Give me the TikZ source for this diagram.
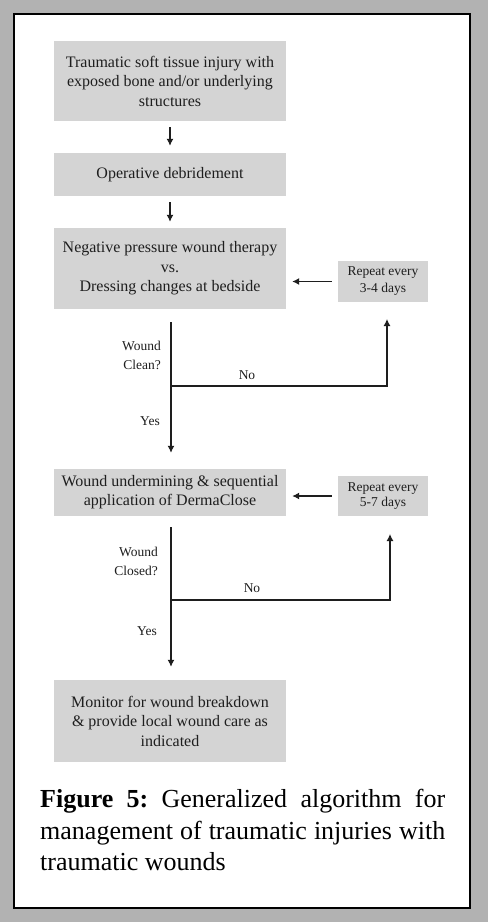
\documentclass[tikz,border=0pt]{standalone}
\usepackage{fontspec}
\setmainfont{Liberation Serif}
\usetikzlibrary{arrows.meta}
\definecolor{bggray}{HTML}{B2B2B2}
\definecolor{boxgray}{HTML}{D4D4D4}
\definecolor{ink}{HTML}{1E1E1E}
\frenchspacing
\begin{document}
\begin{tikzpicture}[x=1pt,y=-1pt,
  flowbox/.style={fill=boxgray,draw=none,minimum width=232pt,align=center,font=\fontsize{16}{19.5}\selectfont,text=ink,inner sep=0pt},
  repbox/.style={fill=boxgray,draw=none,minimum width=90pt,align=center,font=\fontsize{13.5}{17}\selectfont,text=ink,inner sep=0pt},
  lbl/.style={font=\fontsize{13.5}{19}\selectfont,text=ink,inner sep=0pt},
  conn/.style={draw=ink,line width=1.2pt},
  arr/.style={conn,-{Latex[length=7pt,width=7pt]}}]
\fill[bggray] (0,0) rectangle (488,922);
\fill[white] (14,14) rectangle (470,908);
\draw[black,line width=1.4pt] (14,14) rectangle (470,908);
\node[flowbox,minimum height=80pt] (b1) at (170,81) {Traumatic soft tissue injury with\\exposed bone and/or underlying\\structures};
\node[flowbox,minimum height=43pt] (b2) at (170,174.5) {Operative debridement};
\node[flowbox,minimum height=81pt] (b3) at (170,268.5) {Negative pressure wound therapy\\vs.\\Dressing changes at bedside};
\node[repbox,minimum height=41pt] (r1) at (383,281.5) {Repeat every\\3-4 days};
\node[flowbox,minimum height=47pt,font=\fontsize{16}{19}\selectfont] (b4) at (170,492.5) {Wound undermining \& sequential\\application of DermaClose};
\node[repbox,minimum height=40pt,font=\fontsize{13.5}{15.5}\selectfont] (r2) at (383,496) {Repeat every\\5-7 days};
\node[flowbox,minimum height=82pt] (b5) at (170,721) {Monitor for wound breakdown\\\& provide local wound care as\\indicated};
\draw[arr,shorten <=6pt,shorten >=7pt] (b1) -- (b2);
\draw[arr,shorten <=6pt,shorten >=6pt] (b2) -- (b3);
\draw[arr,shorten <=6pt,shorten >=6pt] (r1.west) -- (r1.west -| b3.east);
\draw[arr,shorten <=6pt,shorten >=6pt] (r2.west) -- (r2.west -| b4.east);
% decision 1
\coordinate (j1) at (171,386);
\coordinate (u1) at (387,386);
\coordinate (t1) at (387,302);
\draw[conn,shorten <=13pt] (b3.south -| j1) -- (j1);
\draw[arr,shorten >=16pt] (j1) -- (b4.north -| j1);
\draw[arr,shorten >=17pt] (j1) -- (u1) -- (t1);
\node[lbl,align=right,anchor=east] (q1) at (161,355) {Wound\\Clean?};
\node[lbl] (no1) at (247,375) {No};
\node[lbl] (y1) at (150,421) {Yes};
% decision 2
\coordinate (j2) at (171,600);
\coordinate (u2) at (390,600);
\coordinate (t2) at (390,516);
\draw[conn,shorten <=11pt] (b4.south -| j2) -- (j2);
\draw[arr,shorten >=13pt] (j2) -- (b5.north -| j2);
\draw[arr,shorten >=18pt] (j2) -- (u2) -- (t2);
\node[lbl,align=right,anchor=east] (q2) at (158,561) {Wound\\Closed?};
\node[lbl] (no2) at (252,588) {No};
\node[lbl] (y2) at (147,631) {Yes};
% caption
\node[anchor=north west,text width=405pt,align=justify,inner sep=0pt,font=\fontsize{26}{31.5}\selectfont,text=black] (cap) at (40,789) {\hyphenpenalty=10000\exhyphenpenalty=10000 \textbf{Figure 5:} Generalized algorithm for\linebreak management of traumatic injuries with\linebreak traumatic wounds};
\end{tikzpicture}
\end{document}
